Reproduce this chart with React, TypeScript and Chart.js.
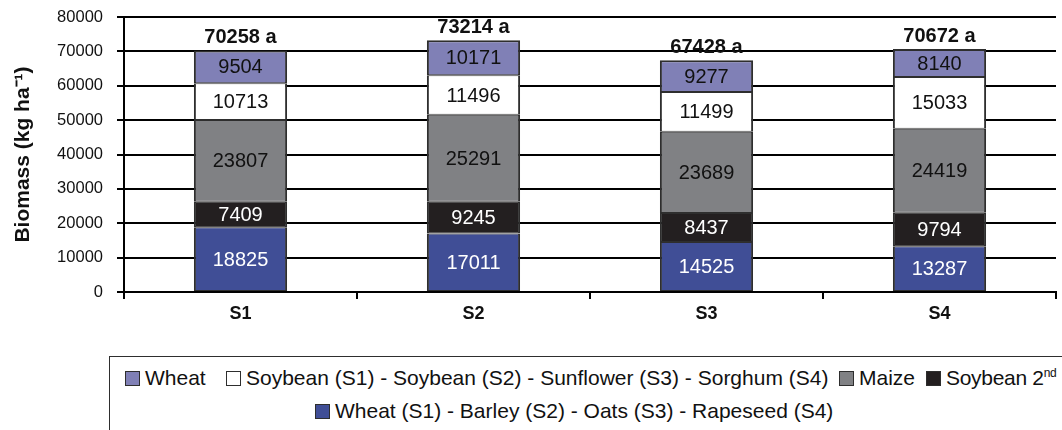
import React, { useEffect, useRef } from "react";
import { Chart, registerables } from "chart.js";

Chart.register(...registerables);

const categories = ["S1", "S2", "S3", "S4"];
const winterCrop = [18825, 17011, 14525, 13287]; // Wheat (S1) - Barley (S2) - Oats (S3) - Rapeseed (S4)
const soybean2nd = [7409, 9245, 8437, 9794];
const maize = [23807, 25291, 23689, 24419];
const summerCrop = [10713, 11496, 11499, 15033]; // Soybean (S1) - Soybean (S2) - Sunflower (S3) - Sorghum (S4)
const wheat = [9504, 10171, 9277, 8140];
const totalLabels = ["70258 a", "73214 a", "67428 a", "70672 a"];
const yMin = 0;
const yMax = 80000;
const yStep = 10000;

const FONT = "'Liberation Sans', Arial, Helvetica, sans-serif";
const INK = "#000000";
const EDGE = "#2e2e2e";

const seriesColors = {
  winter: "#404E96",
  soy2: "#231F20",
  maize: "#808184",
  summer: "#FFFFFF",
  wheat: "#8080B6",
};

const labelColors = ["#FFFFFF", "#FFFFFF", "#111111", "#111111", "#111111"];

const valueLabelsPlugin = {
  id: "valueLabels",
  afterDatasetsDraw(chart: any) {
    const ctx = chart.ctx;
    ctx.save();
    ctx.textAlign = "center";
    ctx.textBaseline = "middle";
    ctx.font = `20px ${FONT}`;
    chart.data.datasets.forEach((ds: any, di: number) => {
      const meta = chart.getDatasetMeta(di);
      meta.data.forEach((bar: any, i: number) => {
        const v = ds.data[i];
        const cy = (bar.y + bar.base) / 2;
        ctx.fillStyle = labelColors[di];
        ctx.fillText(String(v), bar.x, cy + 1);
      });
    });
    const lastMeta = chart.getDatasetMeta(chart.data.datasets.length - 1);
    ctx.font = `bold 20px ${FONT}`;
    ctx.fillStyle = "#111111";
    ctx.textBaseline = "bottom";
    lastMeta.data.forEach((bar: any, i: number) => {
      ctx.fillText(totalLabels[i], bar.x, bar.y - 3);
    });
    ctx.restore();
  },
};

function Swatch({ color }: { color: string }) {
  return (
    <span
      style={{
        display: "inline-block",
        width: 13,
        height: 13,
        background: color,
        border: `1.5px solid ${EDGE}`,
        marginRight: 5,
        verticalAlign: "-1px",
        boxSizing: "content-box",
      }}
    />
  );
}

export default function App() {
  const canvasRef = useRef<HTMLCanvasElement | null>(null);

  useEffect(() => {
    if (!canvasRef.current) return;
    const common = {
      borderColor: EDGE,
      borderWidth: { top: 1, bottom: 1, left: 2, right: 2 },
      borderSkipped: false,
      barPercentage: 0.4,
      categoryPercentage: 1,
    };
    const chart = new Chart(canvasRef.current, {
      type: "bar",
      data: {
        labels: categories,
        datasets: [
          { label: "Wheat (S1) - Barley (S2) - Oats (S3) - Rapeseed (S4)", data: winterCrop, backgroundColor: seriesColors.winter, ...common },
          { label: "Soybean 2nd", data: soybean2nd, backgroundColor: seriesColors.soy2, ...common },
          { label: "Maize", data: maize, backgroundColor: seriesColors.maize, ...common },
          { label: "Soybean (S1) - Soybean (S2) - Sunflower (S3) - Sorghum (S4)", data: summerCrop, backgroundColor: seriesColors.summer, ...common },
          { label: "Wheat", data: wheat, backgroundColor: seriesColors.wheat, ...common, borderWidth: { top: 2, bottom: 1, left: 2, right: 2 } },
        ],
      },
      options: {
        animation: false,
        responsive: false,
        maintainAspectRatio: false,
        layout: { padding: { top: 17, right: 6, left: 0, bottom: 0 } },
        plugins: {
          legend: { display: false },
          tooltip: { enabled: false },
        },
        scales: {
          x: {
            stacked: true,
            offset: true,
            grid: {
              offset: true,
              drawOnChartArea: false,
              drawTicks: true,
              tickLength: 7,
              color: INK,
              lineWidth: 2,
            },
            border: { display: true, color: INK, width: 2 },
            ticks: {
              color: "#111111",
              font: { family: FONT, size: 18, weight: "bold" },
              padding: 4,
            },
            afterFit(scale: any) {
              scale.height = 48;
              scale.paddingLeft = 0;
              scale.paddingRight = 0;
            },
          },
          y: {
            stacked: true,
            min: yMin,
            max: yMax,
            grid: {
              color: INK,
              lineWidth: 2,
              tickLength: 7,
              drawTicks: true,
            },
            border: { display: true, color: INK, width: 2 },
            ticks: {
              stepSize: yStep,
              color: "#111111",
              font: { family: FONT, size: 16.5 },
              padding: 14,
              callback: (v: any) => String(v),
            },
            title: {
              display: true,
              text: "Biomass (kg ha\u207B\u00B9)",
              color: "#111111",
              font: { family: FONT, size: 21, weight: "bold" },
              padding: { top: 11, bottom: 0 },
            },
            afterFit(scale: any) {
              scale.width = 124;
              scale.paddingTop = 0;
              scale.paddingBottom = 0;
            },
          },
        },
      },
      plugins: [valueLabelsPlugin],
    } as any);
    return () => chart.destroy();
  }, []);

  const textStyle: React.CSSProperties = {
    fontFamily: FONT,
    fontSize: 21,
    color: "#111111",
    whiteSpace: "nowrap",
    position: "absolute",
    lineHeight: "24px",
  };

  return (
    <div
      style={{
        position: "fixed",
        left: 0,
        top: 0,
        width: 1062,
        height: 430,
        overflow: "hidden",
        background: "#FFFFFF",
      }}
    >
      <canvas ref={canvasRef} width={1062} height={340} style={{ position: "absolute", left: 0, top: 0, width: 1062, height: 340 }} />
      <div
        style={{
          position: "absolute",
          left: 109,
          top: 356,
          width: 1000,
          height: 120,
          border: `1.5px solid ${EDGE}`,
          boxSizing: "border-box",
        }}
      />
      <div style={{ ...textStyle, left: 125, top: 366 }}>
        <Swatch color={seriesColors.wheat} />
        <span>Wheat</span>
      </div>
      <div style={{ ...textStyle, left: 226, top: 366 }}>
        <Swatch color={seriesColors.summer} />
        <span>Soybean (S1) - Soybean (S2) - Sunflower (S3) - Sorghum (S4)</span>
      </div>
      <div style={{ ...textStyle, left: 839, top: 366 }}>
        <Swatch color={seriesColors.maize} />
        <span>Maize</span>
      </div>
      <div style={{ ...textStyle, left: 926, top: 366 }}>
        <Swatch color={seriesColors.soy2} />
        <span style={{ letterSpacing: -0.3 }}>
          Soybean 2<sup style={{ fontSize: 12, verticalAlign: "8px", lineHeight: 0 }}>nd</sup>
        </span>
      </div>
      <div style={{ ...textStyle, left: 315, top: 399 }}>
        <Swatch color={seriesColors.winter} />
        <span>Wheat (S1) - Barley (S2) - Oats (S3) - Rapeseed (S4)</span>
      </div>
    </div>
  );
}
